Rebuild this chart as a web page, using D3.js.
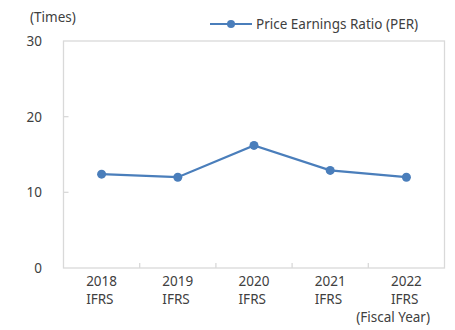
<!DOCTYPE html>
<html><head><meta charset="utf-8">
<script src="https://cdn.jsdelivr.net/npm/d3@7"></script>
<style>
html,body{margin:0;padding:0;background:#fff;}
text{font-family:"Noto Sans","Open Sans",sans-serif;fill:#404040;}
</style></head>
<body><svg id="c" width="455" height="330"></svg>
<script>
const years = ["2018","2019","2020","2021","2022"];
const standards = ["IFRS","IFRS","IFRS","IFRS","IFRS"];
const per = [12.4, 12.0, 16.2, 12.9, 12.0];
const yTicks = [0, 10, 20, 30];
const seriesName = "Price Earnings Ratio (PER)";
const yUnit = "(Times)";
const xUnit = "(Fiscal Year)";

const svg = d3.select("#c");
const m = {l: 63.5, r: 444.5, t: 41, b: 268};
const x = d3.scaleBand().domain(years).range([m.l, m.r]).padding(0);
const y = d3.scaleLinear().domain([0, 30]).range([m.b, m.t]);
const grid = "#d9d9d9";
const col = "#4a7ebb";
const fs = 13.5;

// frame
svg.append("rect").attr("x", m.l).attr("y", m.t).attr("width", m.r - m.l).attr("height", m.b - m.t)
  .attr("fill", "none").attr("stroke", grid).attr("stroke-width", 1.3);

// y ticks (inside)
svg.selectAll(".yt").data(yTicks.filter(d => d > 0 && d < 30)).enter().append("line")
  .attr("x1", m.l).attr("x2", m.l + 5).attr("y1", d => y(d)).attr("y2", d => y(d))
  .attr("stroke", grid).attr("stroke-width", 1.3);
// y labels
svg.selectAll(".yl").data(yTicks).enter().append("text")
  .attr("x", 42).attr("y", d => y(d)).attr("dy", "0.36em").attr("text-anchor", "end")
  .attr("font-size", fs).text(d => d);

// x ticks (inside, between categories)
svg.selectAll(".xt").data(years.slice(1)).enter().append("line")
  .attr("x1", d => x(d)).attr("x2", d => x(d)).attr("y1", m.b).attr("y2", m.b - 5)
  .attr("stroke", grid).attr("stroke-width", 1.3);

// x labels
years.forEach((yr, i) => {
  const cx = x(yr) + x.bandwidth() / 2;
  const t = svg.append("text").attr("x", cx).attr("y", 286).attr("text-anchor", "middle")
    .attr("font-size", fs).text(yr);
  const w = t.node().getComputedTextLength();
  svg.append("text").attr("x", cx - w / 2).attr("y", 304).attr("font-size", fs).text(standards[i]);
});

svg.append("text").attr("x", 30).attr("y", 22).attr("font-size", fs).text(yUnit);
svg.append("text").attr("x", 430).attr("y", 322).attr("text-anchor", "end").attr("font-size", fs).text(xUnit);

// line
const line = d3.line().x((d, i) => x(years[i]) + x.bandwidth() / 2).y(d => y(d));
svg.append("path").datum(per).attr("d", line).attr("fill", "none").attr("stroke", col).attr("stroke-width", 2.2);
svg.selectAll(".pt").data(per).enter().append("circle")
  .attr("cx", (d, i) => x(years[i]) + x.bandwidth() / 2).attr("cy", d => y(d)).attr("r", 4.5).attr("fill", col);

// legend
svg.append("line").attr("x1", 210).attr("x2", 252).attr("y1", 24).attr("y2", 24).attr("stroke", col).attr("stroke-width", 2.2);
svg.append("circle").attr("cx", 231).attr("cy", 24).attr("r", 4).attr("fill", col);
svg.append("text").attr("x", 256).attr("y", 24).attr("dy", "0.36em").attr("font-size", fs).text(seriesName);
</script></body></html>
